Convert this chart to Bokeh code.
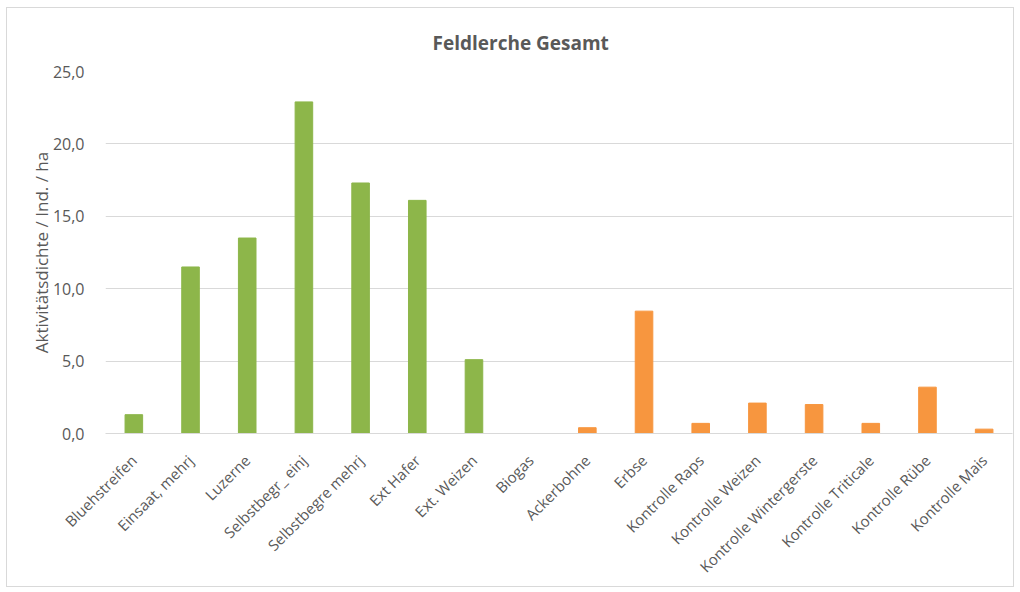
from bokeh.plotting import figure
from bokeh.models import FactorRange, Range1d, SingleIntervalTicker, CustomJSTickFormatter, ColumnDataSource
from bokeh.embed import file_html
from bokeh.resources import INLINE

# Feldlerche activity density per field type
categories = [
    "Bluehstreifen", "Einsaat, mehrj", "Luzerne", "Selbstbegr_ einj",
    "Selbstbegre mehrj", "Ext Hafer", "Ext. Weizen", "Biogas",
    "Ackerbohne", "Erbse", "Kontrolle Raps", "Kontrolle Weizen",
    "Kontrolle Wintergerste", "Kontrolle Triticale", "Kontrolle Rübe",
    "Kontrolle Mais",
]
values = [1.3, 11.5, 13.5, 22.9, 17.3, 16.1, 5.1, 0.0,
          0.4, 8.45, 0.7, 2.1, 2.0, 0.7, 3.2, 0.3]
groups = ["Maßnahme"] * 8 + ["Kultur"] * 8

GREEN = "#8db64a"
ORANGE = "#f7963f"
TEXT = "#595959"
GRID = "#d9d9d9"
FONT = "Open Sans"

src = ColumnDataSource(dict(
    cat=categories,
    val=values,
    color=[GREEN if g == "Maßnahme" else ORANGE for g in groups],
))

p = figure(
    width=1008, height=580,
    x_range=FactorRange(*categories, range_padding=0),
    y_range=Range1d(0, 25),
    output_backend="svg", toolbar_location=None,
    title="Feldlerche Gesamt",
    min_border_left=98, min_border_right=3, min_border_top=63, min_border_bottom=155,
)
p.styles = {"margin": "7px 0 0 6px", "border": "1px solid #d9d9d9"}

p.vbar(x="cat", top="val", width=0.31, color="color", source=src)

# title centred on the whole chart area rather than on the plot frame
p.title.align = "left"
p.title.offset = 327
p.title.vertical_align = "top"
p.title.text_font = FONT
p.title.text_font_size = "19px"
p.title.text_font_style = "bold"
p.title.text_color = TEXT
p.title.standoff = 28

p.outline_line_color = None
p.background_fill_color = "white"
p.border_fill_color = "white"

p.xgrid.grid_line_color = None
p.ygrid.grid_line_color = GRID
p.ygrid.grid_line_width = 1

p.yaxis.ticker = SingleIntervalTicker(interval=5)
p.yaxis.formatter = CustomJSTickFormatter(code="return tick.toFixed(1).replace('.', ',');")
p.yaxis.axis_label = "Aktivitätsdichte / Ind. / ha"
p.yaxis.axis_line_color = None
p.yaxis.major_tick_line_color = None
p.yaxis.minor_tick_line_color = None
p.yaxis.major_label_standoff = 15
p.yaxis.axis_label_standoff = -3

p.xaxis.axis_line_color = GRID
p.xaxis.major_tick_line_color = None
p.xaxis.major_label_orientation = 0.785398
p.xaxis.major_label_standoff = 18

for ax in (p.xaxis, p.yaxis):
    ax.major_label_text_font = FONT
    ax.major_label_text_color = TEXT
    ax.axis_label_text_font = FONT
    ax.axis_label_text_font_size = "17px"
    ax.axis_label_text_font_style = "normal"
    ax.axis_label_text_color = TEXT
p.yaxis.major_label_text_font_size = "16px"
p.xaxis.major_label_text_font_size = "15px"

open("out.html", "w").write(file_html(p, INLINE))
